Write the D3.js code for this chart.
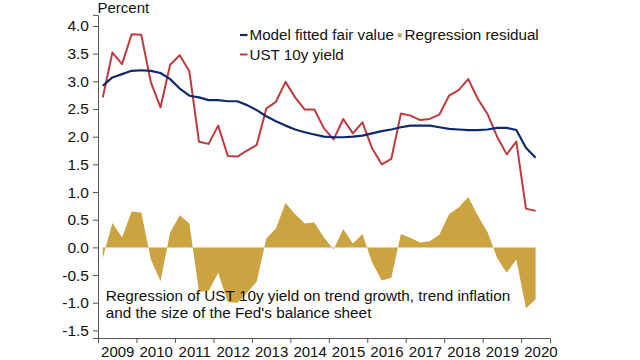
<!DOCTYPE html>
<html><head><meta charset="utf-8">
<script src="https://cdn.jsdelivr.net/npm/d3@7"></script>
<style>
html,body{margin:0;padding:0;background:#fff;}
svg{display:block;font-family:"Liberation Sans",Arial,sans-serif;}
</style></head>
<body><svg id="c" width="640" height="360"></svg>
<script>
const quarters = [];
for (let y = 2009; y <= 2020; y++) for (let q = 1; q <= 4; q++) { if (y === 2020 && q > 2) break; quarters.push(y + "Q" + q); }

const fittedFairValue = [2.92,3.07,3.13,3.19,3.20,3.19,3.15,3.04,2.87,2.74,2.71,2.66,2.66,2.64,2.64,2.57,2.48,2.37,2.28,2.20,2.13,2.08,2.04,2.00,1.99,1.99,2.00,2.02,2.06,2.10,2.13,2.17,2.20,2.20,2.20,2.17,2.14,2.13,2.12,2.12,2.13,2.16,2.16,2.12,1.80,1.62];
const ust10y = [2.71,3.52,3.31,3.85,3.84,2.98,2.53,3.30,3.47,3.18,1.91,1.87,2.20,1.65,1.64,1.75,1.85,2.51,2.63,2.99,2.71,2.49,2.49,2.15,1.95,2.32,2.06,2.26,1.79,1.50,1.60,2.42,2.38,2.30,2.32,2.40,2.74,2.84,3.04,2.68,2.41,2.00,1.68,1.91,0.70,0.66];
const residual = [-0.19,0.44,0.18,0.65,0.63,-0.22,-0.61,0.27,0.58,0.43,-0.80,-0.79,-0.46,-0.99,-1.00,-0.82,-0.62,0.16,0.34,0.80,0.60,0.43,0.45,0.18,-0.04,0.33,0.07,0.24,-0.27,-0.60,-0.55,0.24,0.17,0.09,0.11,0.23,0.60,0.72,0.91,0.57,0.28,-0.19,-0.46,-0.22,-1.10,-0.94];
const yTicks = [4.0,3.5,3.0,2.5,2.0,1.5,1.0,0.5,0.0,-0.5,-1.0,-1.5];
const yearTicks = [2009,2010,2011,2012,2013,2014,2015,2016,2017,2018,2019,2020];
const legendLabels = ["Model fitted fair value","Regression residual","UST 10y yield"];
const noteLines = ["Regression of UST 10y yield on trend growth, trend inflation","and the size of the Fed's balance sheet"];

const C_BLUE = "#0d2b6b", C_RED = "#bf3a3c", C_GOLD = "#cba340", C_AXIS = "#555";

const svg = d3.select("#c");
const x = d3.scaleLinear().domain([2009, 2020.75]).range([98, 550]);
const y = d3.scaleLinear().domain([-1.637, 4.2]).range([338, 14.9]);
const qx = s => { const yr = +s.slice(0,4), q = +s.slice(5); return yr + (q - 0.5) / 4; };

// residual area
const area = d3.area().x((d,i)=>x(qx(quarters[i]))).y0(y(0)).y1(d=>y(d));
svg.append("path").datum(residual).attr("d", area).attr("fill", C_GOLD);

// lines
const line = d3.line().x((d,i)=>x(qx(quarters[i]))).y(d=>y(d));
svg.append("path").datum(ust10y).attr("d", line).attr("fill","none").attr("stroke",C_RED).attr("stroke-width",2).attr("stroke-linejoin","round");
svg.append("path").datum(fittedFairValue).attr("d", line).attr("fill","none").attr("stroke",C_BLUE).attr("stroke-width",2.2).attr("stroke-linejoin","round");

// y axis
const ya = svg.append("g").attr("transform","translate(98,0)")
  .call(d3.axisLeft(y).tickValues(yTicks).tickFormat(d3.format(".1f")).tickSize(5).tickPadding(4));
ya.selectAll("text").attr("font-size","15.5px").attr("fill","#111").attr("font-family","Liberation Sans, Arial, sans-serif").text(d=>d3.format(".1f")(d).replace("−","-"));
ya.selectAll("line,path").attr("stroke",C_AXIS);

// x axis
const xa = svg.append("g").attr("transform","translate(0,338)")
  .call(d3.axisBottom(x).tickValues(yearTicks).tickFormat(d3.format("d")).tickSize(5));
xa.selectAll("text").attr("font-size","15px").attr("fill","#111").attr("font-family","Liberation Sans, Arial, sans-serif")
  .attr("y", 18.8).attr("dy", 0)
  .attr("transform", `translate(${(x(2010)-x(2009))/2},0)`);
xa.selectAll("line,path").attr("stroke",C_AXIS);

// Percent label
svg.append("text").attr("x",97.5).attr("y",12.7).attr("font-size","15px").attr("fill","#111").text("Percent");

// legend
const lg = svg.append("g").attr("font-size","15.2px").attr("fill","#111");
lg.append("line").attr("x1",240).attr("x2",247.5).attr("y1",35).attr("y2",35).attr("stroke",C_BLUE).attr("stroke-width",2.2);
lg.append("text").attr("x",249.5).attr("y",35).attr("dy","0.35em").text(legendLabels[0]);
lg.append("rect").attr("x",397.7).attr("y",33.3).attr("width",4).attr("height",4).attr("fill",C_GOLD);
lg.append("text").attr("x",404.5).attr("y",35).attr("dy","0.35em").text(legendLabels[1]);
lg.append("line").attr("x1",240).attr("x2",247.5).attr("y1",54.5).attr("y2",54.5).attr("stroke",C_RED).attr("stroke-width",2);
lg.append("text").attr("x",249.5).attr("y",54.5).attr("dy","0.35em").text(legendLabels[2]);

// note
svg.append("g").attr("font-size","15.3px").attr("fill","#111")
  .selectAll("text").data(noteLines).join("text")
  .attr("x",105.7).attr("y",(d,i)=>300.6 + i*17.3).text(d=>d);
</script></body></html>
